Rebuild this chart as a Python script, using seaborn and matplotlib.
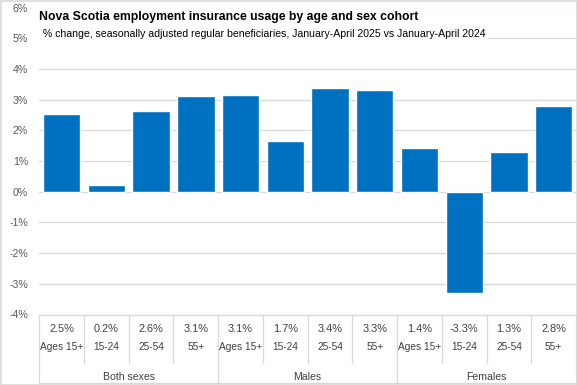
import matplotlib
matplotlib.use("Agg")
import matplotlib.pyplot as plt
from matplotlib.patches import Rectangle
from matplotlib.ticker import FuncFormatter
import seaborn as sns
import pandas as pd

groups = ["Both sexes", "Both sexes", "Both sexes", "Both sexes",
          "Males", "Males", "Males", "Males",
          "Females", "Females", "Females", "Females"]
ages = ["Ages 15+", "15-24", "25-54", "55+"] * 3
values = [2.53, 0.22, 2.63, 3.12, 3.15, 1.65, 3.38, 3.31, 1.42, -3.29, 1.29, 2.79]
table_labels = ["2.5%", "0.2%", "2.6%", "3.1%", "3.1%", "1.7%",
                "3.4%", "3.3%", "1.4%", "-3.3%", "1.3%", "2.8%"]
group_names = ["Both sexes", "Males", "Females"]
yticks = [-4, -3, -2, -1, 0, 1, 2, 3, 4, 5, 6]

title = "Nova Scotia employment insurance usage by age and sex cohort"
subtitle = " % change, seasonally adjusted regular beneficiaries, January-April 2025 vs January-April 2024"

sns.set_style("white")
plt.rcParams["font.family"] = ["Liberation Sans", "DejaVu Sans"]

W, H = 577, 385
fig = plt.figure(figsize=(W / 100, H / 100), dpi=100)

L, R = 39.3, 576.0
T, B = 7.5, 314.5
TB = 383.0

df = pd.DataFrame({"key": [f"{g}|{a}" for g, a in zip(groups, ages)],
                   "group": groups, "age": ages, "value": values})

ax = fig.add_axes([L / W, (H - B) / H, (R - L) / W, (B - T) / H])
sns.barplot(data=df, x="key", y="value", order=list(df["key"]), color="#0070C0",
            saturation=1, width=0.835, ax=ax, zorder=3)
ax.set_xlim(-0.5, len(values) - 0.5)
ax.set_ylim(-4, 6)
ax.set_yticks(yticks)
ax.yaxis.set_major_formatter(FuncFormatter(lambda v, p: f"{v:.0f}%"))
ax.grid(axis="y", color="#D9D9D9", lw=0.9, zorder=0)
ax.set_axisbelow(True)
for s in ax.spines.values():
    s.set_visible(False)
ax.set_xticks([])
ax.set_xlabel("")
ax.set_ylabel("")
ax.tick_params(axis="y", length=0, pad=8, labelsize=7.6, labelcolor="#595959")

# data table
tax = fig.add_axes([L / W, (H - TB) / H, (R - L) / W, (TB - B) / H])
tax.set_xlim(-0.5, len(values) - 0.5)
tax.set_ylim(TB - B, 0)
tax.axis("off")
lc = "#D9D9D9"
tax.plot([-0.5, len(values) - 0.5], [0, 0], color=lc, lw=0.9, clip_on=False)
tax.plot([-0.5, len(values) - 0.5], [TB - B, TB - B], color=lc, lw=0.9, clip_on=False)
for i in range(len(values) + 1):
    x = i - 0.5
    if i % 4 == 0:
        tax.plot([x, x], [0, TB - B], color=lc, lw=0.9, clip_on=False)
    else:
        tax.plot([x, x], [0, 48.5], color=lc, lw=0.9, clip_on=False)
tc = "#404040"
for i, (lab, age) in enumerate(zip(table_labels, ages)):
    tax.text(i, 14.5, lab, ha="center", va="center", fontsize=7.9, color=tc)
    tax.text(i, 32.5, age, ha="center", va="center", fontsize=7.3, color=tc)
for j, g in enumerate(group_names):
    tax.text(j * 4 + 1.5, 62.5, g, ha="center", va="center", fontsize=7.6, color=tc)

fig.text(39 / W, 1 - 16.7 / H, title, ha="left", va="center", fontsize=8.8,
         fontweight="bold", color="#000000")
fig.text(40 / W, 1 - 34 / H, subtitle, ha="left", va="center", fontsize=7.6,
         color="#000000",
         bbox=dict(facecolor="white", edgecolor="none", pad=1.5))

fig.patches.append(Rectangle((0.5 / W, 0.5 / H), 1 - 1 / W, 1 - 1 / H,
                             transform=fig.transFigure, fill=False,
                             edgecolor="#D9D9D9", lw=1.2))

fig.savefig("out.png", dpi=100)
